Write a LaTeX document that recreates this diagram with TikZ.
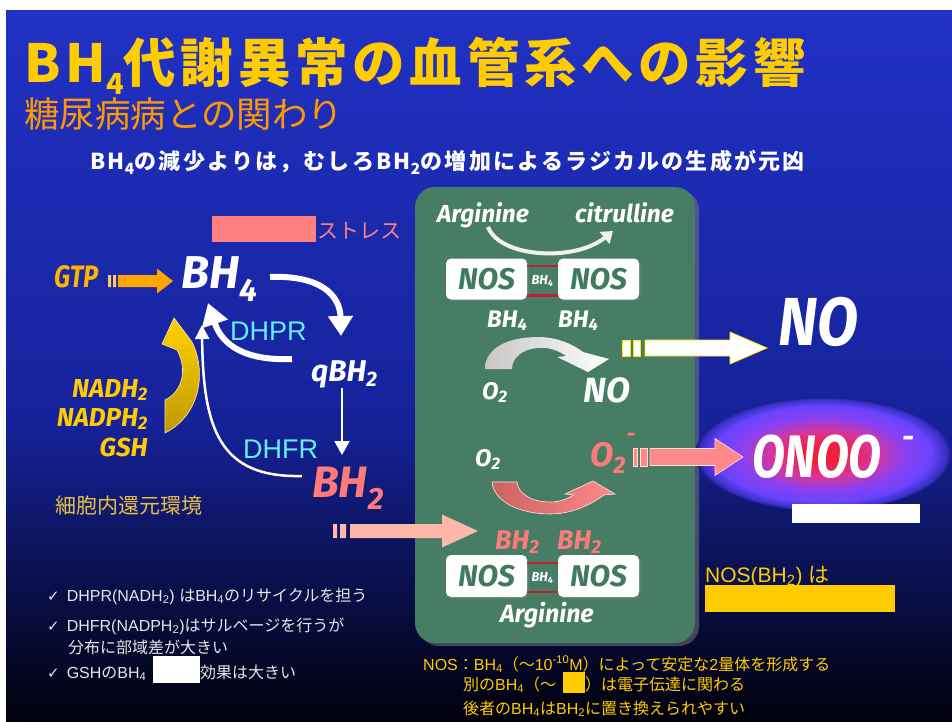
\documentclass[tikz,border=0pt]{standalone}
\usepackage{fontspec}
\usepackage{graphicx}
\usetikzlibrary{arrows.meta,shadows,calc}
\newfontfamily\jp{Noto Sans CJK JP}
\newfontfamily\jptitle{Noto Sans CJK JP}[LetterSpace=9]
\newfontfamily\jphead{Noto Sans CJK JP}[LetterSpace=10]
\newfontfamily\lib{Liberation Sans}
\newfontfamily\chem{Fira Sans}
\newfontfamily\dv{DejaVu Sans}
\newcommand\lt[1]{{\lib #1}}
\newcommand\chk{{\dv\fontsize{15}{15}\selectfont ✓}\hspace{7pt}}
\definecolor{bgtop}{HTML}{2131C4}
\definecolor{bgmid}{HTML}{16229A}
\definecolor{bgbot}{HTML}{00000A}
\definecolor{cTitle}{HTML}{FFCC00}
\definecolor{cSub}{HTML}{FF9900}
\definecolor{boxgreen}{HTML}{467D64}
\definecolor{nosgreen}{HTML}{3E7A5E}
\definecolor{cSalmon}{HTML}{FF7B7B}
\definecolor{cPinkBox}{HTML}{FF8080}
\definecolor{cCyan}{HTML}{66EEEE}
\definecolor{cGold}{HTML}{FFCC00}
\definecolor{cGTP}{HTML}{FFB400}
\definecolor{cEnv}{HTML}{E8C040}
\definecolor{cLightPink}{HTML}{FFB8A8}
\definecolor{nosred}{HTML}{C0202A}
\definecolor{cOrange}{HTML}{FFA500}
\definecolor{cList}{HTML}{E6E6E6}
\definecolor{glowA}{HTML}{F0203C}
\definecolor{glowB}{HTML}{D83598}
\definecolor{glowC}{HTML}{8A40F0}
\definecolor{glowD}{HTML}{6A44FF}
\definecolor{glowE}{HTML}{3A30C8}
\definecolor{bgglow}{HTML}{18208C}
\pgfdeclareradialshading{glowshade}{\pgfpoint{0bp}{0bp}}{color(0bp)=(glowA); color(4bp)=(glowA); color(10bp)=(glowB); color(16bp)=(glowC); color(21bp)=(glowD); color(24bp)=(glowE); color(25bp)=(bgglow); color(50bp)=(bgglow)}
\newcommand{\harrow}[6]{%
  \path[#1] ($(#2)+(0,-#4)$) -- ($(#3)+(-#6,-#4)$) -- ($(#3)+(-#6,-#5)$) -- (#3)
    -- ($(#3)+(-#6,#5)$) -- ($(#3)+(-#6,#4)$) -- ($(#2)+(0,#4)$) -- cycle;}
\tikzset{
  chem/.style={font=\chem\bfseries\itshape\fontsize{#1}{#1}\selectfont, inner sep=0pt, text=white},
  jpt/.style={font=\jp\fontsize{#1}{#1}\selectfont, inner sep=0pt},
  libt/.style={font=\lib\fontsize{#1}{#1}\selectfont, inner sep=0pt},
  nosbox/.style={rounded corners=5pt, fill=white, minimum width=81pt, minimum height=41pt,
    inner sep=0pt, text=nosgreen, font=\chem\bfseries\itshape\fontsize{30}{30}\selectfont,
    drop shadow={shadow xshift=2pt, shadow yshift=-2pt, opacity=0.35}},
  whitecurve/.style={draw=white, line width=#1},
}
\begin{document}
\begin{tikzpicture}[x=1pt,y=-1pt]
\useasboundingbox (0,0) rectangle (952,722);
\fill[white] (0,0) rectangle (952,722);
\shade[top color=bgtop, bottom color=bgmid] (6,11) rectangle (952,421);
\shade[top color=bgmid, bottom color=bgbot] (6,420) rectangle (952,722);

% titles
\node[anchor=base west, inner sep=0, text=cTitle, font=\jptitle\bfseries\fontsize{52.5}{52.5}\selectfont] (title) at (24,83)
  {BH\raisebox{-12pt}{\fontsize{29}{29}\selectfont 4}代謝異常の血管系への影響};
\node[anchor=base west, text=cSub, jpt=35.5] (subtitle) at (24,128) {糖尿病病との関わり};
\node[anchor=base, inner sep=0, text=white, font=\jphead\bfseries\fontsize{22}{22}\selectfont] (head) at (447.5,170)
  {BH\textsubscript{4}の減少よりは，むしろBH\textsubscript{2}の増加によるラジカルの生成が元凶};

% green box
\path[fill=boxgreen, rounded corners=20pt, drop shadow={shadow xshift=4pt, shadow yshift=-3pt, opacity=0.5}]
  (415,187) rectangle (695,643);

% stress
\node[fill=cPinkBox, minimum width=104pt, minimum height=26pt, inner sep=0, anchor=north west] (stressbox) at (212,216) {};
\node[anchor=base west, jpt=21, text=cPinkBox] (stress) at (317,238) {ストレス};

% left cycle labels
\node[anchor=base west, chem=31, text=cGTP] (gtp) at (54,287) {\scalebox{0.82}[1]{GTP}};
\node[anchor=base west, chem=46] (bh4) at (181,288) {BH\textsubscript{4}};
\node[anchor=base west, chem=30] (qbh2) at (311,381) {qBH\textsubscript{2}};
\node[anchor=base west, chem=44, text=cSalmon] (bh2) at (312,497) {BH\textsubscript{2}};
\node[anchor=base west, libt=27, text=cCyan] (dhpr) at (230,340) {DHPR};
\node[anchor=base west, libt=27, text=cCyan] (dhfr) at (243,458) {DHFR};
\node[anchor=base east, chem=26, text=cGold] (nadh) at (148,397) {NADH\textsubscript{2}};
\node[anchor=base east, chem=26, text=cGold] (nadph) at (148,426) {NADPH\textsubscript{2}};
\node[anchor=base east, chem=26, text=cGold] (gsh) at (148,456) {GSH};
\node[anchor=base west, jpt=21, text=cEnv] (env) at (55,513) {細胞内還元環境};

% GTP arrow
\coordinate (gtpA) at (118,281);
\coordinate (gtpB) at (173,281);
\fill[cOrange!60!white] (108,275) rectangle (111,287) (113,275) rectangle (116,287);
\harrow{fill=cOrange}{gtpA}{gtpB}{6}{12.5}{16}

% cycle arrows
\coordinate (c1s) at (270,277); \coordinate (c1e) at (341,336);
\draw[whitecurve=6pt, -{Triangle[length=20pt,width=24pt]}] (c1s) .. controls (320,275) and (340,295) .. (c1e);
\coordinate (c2s) at (292,359); \coordinate (c2e) at (208,303);
\draw[whitecurve=6pt, -{Triangle[length=22pt,width=26pt]}] (c2s) .. controls (245,361) and (222,345) .. (c2e);
\coordinate (c3s) at (342,388); \coordinate (c3e) at (342,455);
\draw[whitecurve=2.2pt, -{Triangle[length=14pt,width=15pt]}] (c3s) -- (c3e);
\coordinate (c4s) at (302,476); \coordinate (c4e) at (202,325);
\draw[whitecurve=2.5pt, -{Triangle[length=14pt,width=14pt]}] (c4s) .. controls (220,478) and (203,430) .. (c4e);

% yellow reducing arrow
\shade[top color=cGold!90!yellow, bottom color=cGold!75!black, draw=cGold!40!white, line width=0.6pt]
  (174,318) -- (192,342) .. controls (206,370) and (202,414) .. (165,433) -- (165,400)
  .. controls (182,392) and (188,370) .. (177,350) -- (162,344) -- cycle;

% inside the green box
\node[anchor=base west, chem=24.5] (arg1) at (437,222) {Arginine};
\node[anchor=base west, chem=24.5] (citr) at (575,222) {citrulline};
\coordinate (a1s) at (488,227); \coordinate (a1e) at (613,231);
\draw[draw=white!88!gray, line width=4pt, -{Triangle[length=11pt,width=15pt]}] (a1s) .. controls (500,258) and (575,262) .. (a1e);

\node[nosbox] (nos1) at (486.5,279) {NOS};
\node[nosbox] (nos2) at (598.5,279) {NOS};
\draw[nosred, line width=2.5pt] ([yshift=-7.5pt]nos1.north east) -- ([yshift=-7.5pt]nos2.north west)
  ([yshift=4pt]nos1.south east) -- ([yshift=4pt]nos2.south west);
\node[chem=13] (mid1) at ($(nos1.east)!0.5!(nos2.west)+(0,2)$) {BH\textsubscript{4}};

\node[anchor=base west, chem=24] (bh4a) at (487,327) {BH\textsubscript{4}};
\node[anchor=base west, chem=24] (bh4b) at (558,327) {BH\textsubscript{4}};

% O2 -> NO arc
\shade[left color=white!78!black, right color=white]
  (485,369) .. controls (485,348) and (508,337) .. (538,337) .. controls (558,337) and (574,345) .. (583,352)
  -- (609,359) -- (588,372) -- (557,357) -- (566,356) .. controls (558,350) and (548,347) .. (538,348)
  .. controls (522,349) and (512,358) .. (512,369) -- cycle;
\node[anchor=base west, chem=24] (o2a) at (482,399) {O\textsubscript{2}};
\node[anchor=base west, chem=35] (noa) at (583,402) {NO};

\node[anchor=base west, chem=24] (o2b) at (475,466) {O\textsubscript{2}};
\node[anchor=base west, chem=34, text=cSalmon] (o2m) at (590,466) {O\textsubscript{2}};
\node[chem=22, text=cSalmon] (o2mm) at (631,437) {-};

% O2 -> O2- arc
\shade[left color=cSalmon!80!black, right color=cSalmon!90!white, draw=white!80!cSalmon, line width=0.6pt]
  (492,482) .. controls (494,502) and (520,514) .. (550,514) .. controls (572,514) and (590,505) .. (604,495)
  -- (615,494) -- (593,481) -- (565,494) -- (574,495) .. controls (565,500) and (558,502) .. (550,502)
  .. controls (532,502) and (518,494) .. (517,482) -- cycle;

\node[anchor=base west, chem=27, text=cSalmon] (bh2a) at (495,549) {BH\textsubscript{2}};
\node[anchor=base west, chem=27, text=cSalmon] (bh2b) at (557,549) {BH\textsubscript{2}};
\node[nosbox, minimum height=42pt] (nos3) at (486.5,576) {NOS};
\node[nosbox, minimum height=42pt] (nos4) at (598.5,576) {NOS};
\draw[nosred, line width=2.5pt] ([yshift=-8pt]nos3.north east) -- ([yshift=-8pt]nos4.north west)
  ([yshift=5pt]nos3.south east) -- ([yshift=5pt]nos4.south west);
\node[chem=13] (mid2) at ($(nos3.east)!0.5!(nos4.west)+(0,2)$) {BH\textsubscript{4}};
\node[anchor=base west, chem=25] (arg2) at (500,622) {Arginine};

% pink arrow into box
\coordinate (pkA) at (350,531);
\coordinate (pkB) at (478,531);
\fill[cLightPink] (333,524) rectangle (337,538) (340,524) rectangle (346,538);
\harrow{fill=cLightPink}{pkA}{pkB}{7}{16.5}{36}

% NO arrow
\coordinate (noA) at (645,348);
\coordinate (noB) at (767,348);
\filldraw[fill=white, draw=yellow!90!orange, line width=0.8pt] (622,340) rectangle (630,356) (633,340) rectangle (640,356);
\harrow{fill=white, draw=yellow!90!orange, line width=0.8pt}{noA}{noB}{8}{16}{37}
\node[anchor=base west, chem=68] (nobig) at (778,345) {\scalebox{0.88}[1]{NO}};

% glow and peroxynitrite
\shade[shading=glowshade] (823,454) ellipse [x radius=128pt, y radius=57pt];
\coordinate (onA) at (650,457);
\coordinate (onB) at (743,457);
\filldraw[fill=cSalmon!90!white, draw=white!75!cSalmon, line width=0.6pt] (633,448) rectangle (637,466) (640,448) rectangle (647,466);
\harrow{fill=cSalmon!90!white, draw=white!75!cSalmon, line width=0.6pt}{onA}{onB}{8.5}{18.5}{28}
\node[anchor=base west, chem=60] (onoo) at (752,477) {\scalebox{0.8}[1]{ONOO}};
\node[chem=30] (onoom) at (908,442) {-};
\node[fill=white, minimum width=128pt, minimum height=19pt, inner sep=0, anchor=north west] (wbox) at (792,504) {};

\node[anchor=base west, jpt=21, text=cGold] (nosbh2) at (705,582) {\lt{NOS(BH\textsubscript{2}) }は};
\node[fill=cGold, minimum width=190pt, minimum height=27pt, inner sep=0, anchor=north west] (ybox) at (705,585) {};

% check list
\node[anchor=base west, jpt=16, text=cList] (l1) at (47,601) {\chk\lt{DHPR(NADH\textsubscript{2}) }は\lt{BH\textsubscript{4}}のリサイクルを担う};
\node[anchor=base west, jpt=16, text=cList] (l2) at (47,631) {\chk\lt{DHFR(NADPH\textsubscript{2})}はサルベージを行うが};
\node[anchor=base west, jpt=16, text=cList] (l3) at (68,653) {分布に部域差が大きい};
\node[anchor=base west, jpt=16, text=cList] (l4) at (47,678) {\chk\lt{GSH}の\lt{BH\textsubscript{4}}};
\node[fill=white, minimum width=47pt, minimum height=27pt, inner sep=0, anchor=north west] (l4box) at (153,656) {};
\node[anchor=base west, jpt=16, text=cList] (l4b) at (200,678) {効果は大きい};

% bottom notes
\node[anchor=base west, jpt=16, text=cGold] (n1) at (423,670) {\lt{NOS}：\lt{BH\textsubscript{4}}（～\lt{10\textsuperscript{-10}M}）によって安定な\lt{2}量体を形成する};
\node[anchor=base west, jpt=16, text=cGold] (n2a) at (463,690) {別の\lt{BH\textsubscript{4}}（～};
\node[fill=cGold, minimum width=22pt, minimum height=21pt, inner sep=0, anchor=north west] (n2box) at (563,672) {};
\node[anchor=base west, jpt=16, text=cGold] (n2b) at (585,690) {）は電子伝達に関わる};
\node[anchor=base west, jpt=16, text=cGold] (n3) at (463,714) {後者の\lt{BH\textsubscript{4}}は\lt{BH\textsubscript{2}}に置き換えられやすい};
\end{tikzpicture}
\end{document}
